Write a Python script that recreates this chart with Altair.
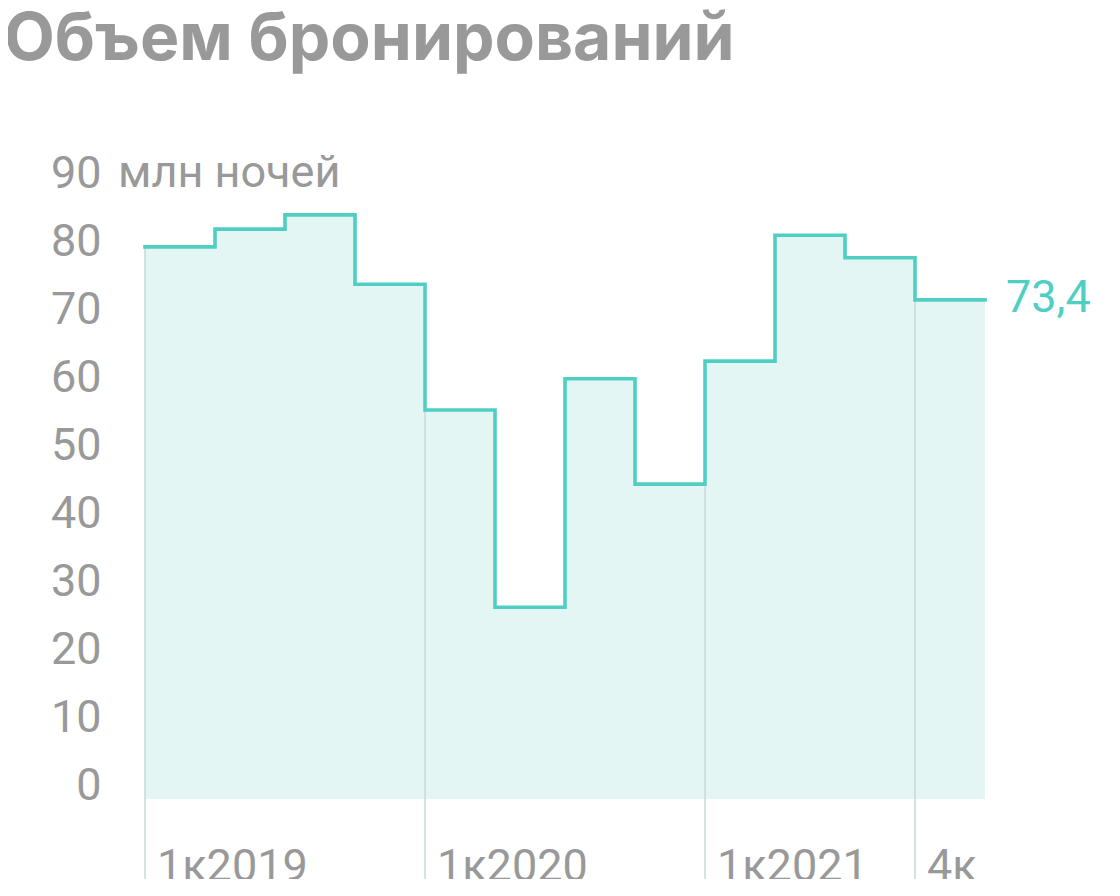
import altair as alt
import pandas as pd

# ---- data ----
quarters = ["1к2019", "2к2019", "3к2019", "4к2019",
            "1к2020", "2к2020", "3к2020", "4к2020",
            "1к2021", "2к2021", "3к2021", "4к2021"]
values = [81.2, 83.8, 85.9, 75.7, 57.2, 28.2, 61.8, 46.3, 64.4, 82.9, 79.6, 73.4]
tick_index = [0, 4, 8, 11]
tick_labels = ["1к2019", "1к2020", "1к2021", "4к"]
y_ticks = [0, 10, 20, 30, 40, 50, 60, 70, 80, 90]
title_text = "Объем бронирований"
unit_text = "млн ночей"
last_label = "73,4"

TEAL = "#4fcfc4"
FILL = "#e3f6f4"
GRAY = "#999999"
FONT = "Roboto"

W, H = 840, 612

# step table: one row per quarter plus closing point at the right edge
step_df = pd.DataFrame({"i": list(range(len(values))) + [len(values)],
                        "v": values + [values[-1]]})
tick_df = pd.DataFrame({"i": tick_index,
                        "v": [values[k] for k in tick_index],
                        "label": tick_labels})
last_df = pd.DataFrame({"i": [len(values)], "v": [values[-1]], "label": [last_label]})
one = pd.DataFrame({"t": [title_text], "u": [unit_text]})

x_scale = alt.Scale(domain=[0, len(values)], nice=False, zero=False)
y_scale = alt.Scale(domain=[0, 90], nice=False)

y_axis = alt.Axis(values=y_ticks, grid=False, domain=False, ticks=False,
                  labelFontSize=45, labelColor=GRAY, labelFont=FONT,
                  labelPadding=44, labelBaseline="alphabetic", labelAlign="right",
                  title=None, labelFlush=False, labelOverlap=False)

base = alt.Chart(step_df)

area = base.mark_area(interpolate="step-after", color=FILL, opacity=1).encode(
    x=alt.X("i:Q", scale=x_scale, axis=None),
    y=alt.Y("v:Q", scale=y_scale, axis=y_axis),
)

rules = alt.Chart(tick_df).mark_rule(color="#cadcdb", strokeWidth=1.6, clip=False).encode(
    x=alt.X("i:Q", scale=x_scale),
    y=alt.Y("v:Q", scale=y_scale),
    y2=alt.value(H + 90),
)

line = base.mark_line(interpolate="step-after", color=TEAL, strokeWidth=3.6,
                      strokeCap="square", strokeJoin="miter").encode(
    x=alt.X("i:Q", scale=x_scale),
    y=alt.Y("v:Q", scale=y_scale),
)

xlabels = alt.Chart(tick_df).mark_text(align="left", baseline="alphabetic", dx=12,
                                       fontSize=45, font=FONT, color=GRAY).encode(
    x=alt.X("i:Q", scale=x_scale),
    y=alt.value(H + 82),
    text="label:N",
)

endlabel = alt.Chart(last_df).mark_text(align="left", baseline="alphabetic", dx=21, dy=12,
                                        fontSize=45, font=FONT, color=TEAL).encode(
    x=alt.X("i:Q", scale=x_scale),
    y=alt.Y("v:Q", scale=y_scale),
    text="label:N",
)

unit = alt.Chart(one).mark_text(align="left", baseline="alphabetic",
                                fontSize=45, font=FONT, color=GRAY).encode(
    x=alt.value(-27),
    y=alt.datum(90, scale=y_scale),
    text="u:N",
)

title = alt.Chart(one).mark_text(align="left", baseline="alphabetic",
                                 fontSize=66, font="Inter", fontWeight="bold",
                                 color="#999999").encode(
    x=alt.value(-141),
    y=alt.value(-127),
    text="t:N",
)

chart = alt.layer(area, rules, line, xlabels, endlabel, unit, title).properties(
    width=W, height=H,
    padding={"left": 137, "top": 179, "right": 127, "bottom": 80},
    autosize=alt.AutoSizeParams(type="none"),
).configure_view(stroke=None)

chart.save("out.html", embed_options={"renderer": "svg", "actions": False})
